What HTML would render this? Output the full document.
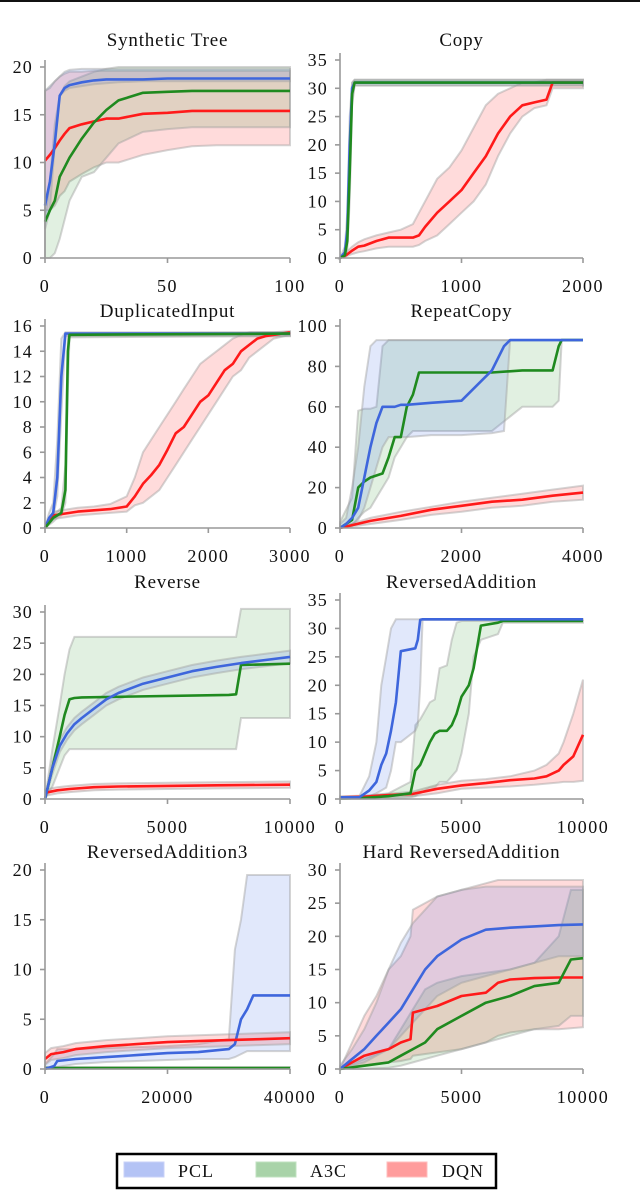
<!DOCTYPE html>
<html><head><meta charset="utf-8">
<style>
html,body{margin:0;padding:0;background:#fff;}
svg text{font-family:"Liberation Serif",serif;fill:#111;}
</style></head>
<body>
<svg id="chart" width="640" height="1190" viewBox="0 0 640 1190" xmlns="http://www.w3.org/2000/svg">
<rect x="0" y="0" width="640" height="2" fill="#111"/>
<g>
<rect x="117" y="1154" width="379" height="34" fill="#fff" stroke="#000" stroke-width="2.5"/>
<rect x="124" y="1162" width="40" height="15" fill="#b4c3f5" stroke="#c8d2f8"/>
<text x="178" y="1177" font-size="18" letter-spacing="1">PCL</text>
<rect x="256" y="1162" width="40" height="15" fill="#a9d3a9" stroke="#c0e0c0"/>
<text x="310" y="1177" font-size="18" letter-spacing="1">A3C</text>
<rect x="387" y="1162" width="40" height="15" fill="#ff9c9c" stroke="#ffbdbd"/>
<text x="442" y="1177" font-size="18" letter-spacing="1">DQN</text>
</g>
</svg>
<script>
// ---------- data ----------
// Panel 1: Synthetic Tree
const treeX=[0,2,4,6,8,10,15,20,25,30,40,50,60,70,80,100];
const treePclMean=[5.5,8,12,17,17.8,18.1,18.4,18.6,18.7,18.7,18.7,18.8,18.8,18.8,18.8,18.8];
const treePclLo=[3,5,12,17,17.5,17.8,18,18.2,18.3,18.4,18.5,18.5,18.5,18.5,18.5,18.5];
const treePclHi=[17.5,18,18.5,19,19.5,19.7,19.8,19.8,19.8,19.8,19.8,19.8,19.8,19.8,19.8,19.8];
const treeA3cMean=[3.8,5,6,8.5,9.5,10.5,12.5,14.2,15.5,16.5,17.3,17.4,17.5,17.5,17.5,17.5];
const treeA3cLo=[0,0,0.5,2,4,6,8.5,9,10.5,12,13.2,13.5,13.7,13.7,13.7,13.7];
const treeA3cHi=[4,8,14,17,18,18.5,19,19.5,19.8,20,20,20,20,20,20,20];
const treeDqnMean=[10.2,10.8,11.5,12.3,13,13.6,14,14.3,14.6,14.6,15.1,15.2,15.4,15.4,15.4,15.4];
const treeDqnLo=[5,5,5.5,6.5,7,8,8.8,9.5,10,10,10.8,11.3,11.7,11.8,11.8,11.8];
const treeDqnHi=[17.5,17.8,18.5,19,19.3,19.5,19.5,19.6,19.6,19.6,19.6,19.6,19.6,19.6,19.6,19.6];
// Panel 2: Copy
const copyPclX=[0,40,60,80,100,120,2000];
const copyPclMean=[0,1,5,20,30,31,31];
const copyPclLo=[0,0.5,3,15,28,30.5,30.5];
const copyPclHi=[0,2,8,25,31,31.5,31.5];
const copyA3cX=[0,40,60,80,100,120,2000];
const copyA3cMean=[0,0.5,3,15,29,31,31];
const copyA3cLo=[0,0.2,1.5,10,27,30.5,30.5];
const copyA3cHi=[0,1,5,20,31,31.5,31.5];
const copyDqnX=[0,50,100,150,200,300,400,500,600,650,700,800,900,1000,1100,1200,1300,1400,1500,1600,1700,1750,2000];
const copyDqnMean=[0,0.5,1.3,2,2.2,3,3.6,3.6,3.6,4,5.5,8,10,12,15,18,22,25,27,27.5,28,31,31];
const copyDqnLo=[0,0.3,0.7,1,1.2,1.7,2,2,2,2.3,3,4,6,8,10,13,18,22,25,26.5,27,30,30];
const copyDqnHi=[0,1,2,2.8,3.3,4,4.5,5,6,8,10,14,16,19,23,27,29,30,31,31,31.5,31.5,31.5];
// Panel 3: DuplicatedInput
const dupPclX=[0,50,100,150,200,250,300,3000];
const dupPclMean=[0,0.8,1.2,4,12,15.4,15.4,15.4];
const dupPclLo=[0,0.5,0.9,2.5,9,15.2,15.2,15.2];
const dupPclHi=[0,1.2,2,7,15,15.5,15.5,15.5];
const dupA3cX=[0,100,150,200,250,280,300,3000];
const dupA3cMean=[0,0.8,1,1.2,3,14,15.3,15.4];
const dupA3cLo=[0,0.5,0.8,1,2,11,15.1,15.2];
const dupA3cHi=[0,1.1,1.3,1.6,5,15.3,15.4,15.5];
const dupDqnX=[0,100,200,400,600,800,1000,1100,1200,1300,1400,1500,1600,1700,1800,1900,2000,2100,2200,2300,2400,2500,2600,2700,2800,3000];
const dupDqnMean=[0,1,1.1,1.3,1.4,1.5,1.7,2.5,3.5,4.2,5,6.2,7.5,8,9,10,10.5,11.5,12.5,13,14,14.5,15,15.2,15.3,15.5];
const dupDqnLo=[0,0.7,0.8,1,1.1,1.2,1.3,1.8,2,2.5,3,4,5,6,7,8,9,10,11,12,12.5,13.5,14,14.5,15,15.3];
const dupDqnHi=[0,1.3,1.4,1.6,1.7,1.9,2.5,4,6,7,8,9,10,11,12,13,13.5,14,14.5,15,15.3,15.5,15.5,15.5,15.5,15.6];
// Panel 4: RepeatCopy
const repPclX=[0,100,200,300,400,500,600,700,800,900,1000,1100,1500,2000,2500,2700,2800,4000];
const repPclMean=[0,2,5,10,25,40,52,60,60,60,61,61,62,63,78,90,93,93];
const repPclLo=[0,1,2,4,10,20,30,40,45,45,45,45,46,46,47,48,93,93];
const repPclHi=[2,5,20,40,70,90,93,93,93,93,93,93,93,93,93,93,93,93];
const repA3cX=[0,200,300,400,500,600,700,800,900,1000,1100,1200,1300,1400,1500,2000,2500,3000,3500,3600,3650,4000];
const repA3cMean=[0,4,20,23,25,26,27,35,45,45,60,66,77,77,77,77,77,78,78,90,93,93];
const repA3cLo=[0,1,5,8,10,15,20,25,35,40,45,48,48,48,48,48,48,60,60,63,93,93];
const repA3cHi=[3,15,58,59,59,60,90,93,93,93,93,93,93,93,93,93,93,93,93,93,93,93];
const repDqnX=[0,500,1000,1500,2000,2500,3000,3500,4000];
const repDqnMean=[0,3.5,6,9,11,13,14,16,17.5];
const repDqnLo=[0,2,4,6.5,8,10,11,13,14];
const repDqnHi=[0,5,8,10.5,13,15,17,19,21];
// Panel 5: Reverse
const revPclX=[0,300,600,900,1200,1500,2000,2500,3000,4000,5000,6000,7000,8000,9000,10000];
const revPclMean=[0,5,8.5,10.5,12,13,14.5,16,17,18.5,19.5,20.5,21.2,21.8,22.3,22.8];
const revPclLo=[0,4,7.5,9.5,11,12,13.5,15,16,17.5,18.5,19.5,20.2,20.8,21.3,21.8];
const revPclHi=[0,6,9.5,11.5,13,14,15.5,17,18,19.5,20.5,21.5,22.2,22.8,23.3,23.8];
const revA3cX=[0,300,600,800,1000,1200,1500,7500,7800,8000,10000];
const revA3cMean=[0,5,10,13.5,16,16.2,16.3,16.7,16.8,21.5,21.7];
const revA3cLo=[0,2,5,7,8,8,8,8,8,13,13];
const revA3cHi=[0,8,15,20,24,26,26,26,26,30.5,30.5];
const revDqnX=[0,500,1000,2000,3000,5000,7000,10000];
const revDqnMean=[1,1.4,1.6,1.9,2,2.1,2.2,2.3];
const revDqnLo=[0.5,0.9,1.1,1.4,1.5,1.6,1.7,1.8];
const revDqnHi=[1.5,1.9,2.1,2.4,2.5,2.6,2.7,2.8];
// Panel 6: ReversedAddition
const raPclX=[0,800,1200,1500,1700,1900,2100,2300,2500,3100,3200,3300,3400,10000];
const raPclMean=[0.3,0.3,1.5,3,6,8,12,17,26,26.5,28,31.5,31.6,31.6];
const raPclLo=[0.3,0.3,0.5,1,1.5,2,5,10,10,12,13,20,31.5,31.5];
const raPclHi=[0.3,0.5,4,10,20,25,30,31.6,31.6,31.6,31.6,31.6,31.6,31.6];
const raA3cX=[0,1000,2000,2900,3100,3300,3700,3900,4100,4400,4600,4800,5000,5300,5500,5800,6500,6700,10000];
const raA3cMean=[0.1,0.2,0.5,1,5,6,10,11.5,12,12,13,15,18,20,23,30.5,31,31.3,31.3];
const raA3cLo=[0,0,0.1,0.3,0.5,1,2,2,3,3,4,5,8,15,25,28,29,31,31];
const raA3cHi=[0.2,0.5,1,3,13,14,17,17.5,23,23.5,28,31,31.3,31.3,31.3,31.3,31.3,31.3,31.3];
const raDqnX=[0,1000,2000,3000,4000,5000,6000,7000,8000,8500,9000,9200,9600,10000];
const raDqnMean=[0.3,0.4,0.7,0.9,1.8,2.4,2.8,3.3,3.6,4,5,6,7.5,11.3];
const raDqnLo=[0.2,0.3,0.4,0.5,1,1.8,2,2.2,2.5,2.7,2.9,3,3,3.2];
const raDqnHi=[0.5,0.6,0.9,1.3,2.5,3.2,3.5,4,5,6,8,10,15,21];
// Panel 7: ReversedAddition3
const ra3PclX=[0,1500,2000,5000,10000,15000,20000,25000,30000,31000,32000,33000,34000,40000];
const ra3PclMean=[0,0.3,0.8,1,1.2,1.4,1.6,1.7,2,2.5,5,6,7.4,7.4];
const ra3PclLo=[0,0.1,0.2,0.5,0.7,0.8,0.9,1,1,1.2,1.5,1.8,1.8,1.8];
const ra3PclHi=[0.5,1.5,2,2,2.1,2.2,2.3,2.5,3,12,15,19.5,19.5,19.5];
const ra3A3cX=[0,40000];
const ra3A3cMean=[0.1,0.1];
const ra3A3cLo=[0,0];
const ra3A3cHi=[0.2,0.2];
const ra3DqnX=[0,1000,3000,5000,10000,15000,20000,25000,30000,35000,40000];
const ra3DqnMean=[1,1.5,1.7,2,2.3,2.5,2.7,2.8,2.9,3,3.1];
const ra3DqnLo=[0.4,0.9,1.1,1.4,1.7,1.9,2.1,2.2,2.3,2.4,2.5];
const ra3DqnHi=[1.6,2.1,2.3,2.6,2.9,3.1,3.3,3.4,3.5,3.6,3.7];
// Panel 8: Hard ReversedAddition
const hraPclX=[0,500,1000,1500,2000,2500,3000,3500,4000,5000,6000,7000,8000,9000,10000];
const hraPclMean=[0,1.5,3,5,7,9,12,15,17,19.5,21,21.3,21.5,21.7,21.8];
const hraPclLo=[0,0.5,1,2,3,5,7,9,11,13,14,15,16,17,17];
const hraPclHi=[0.5,3,6,10,15,19,22,24,26,27,27.5,27.5,27.5,27.5,27.5];
const hraA3cX=[0,1000,2000,2500,3000,3500,4000,5000,6000,7000,8000,9000,9500,10000];
const hraA3cMean=[0,0.5,1,2,3,4,6,8,10,11,12.5,13,16.5,16.7];
const hraA3cLo=[0,0,0.2,0.5,1,1.5,2,3,4,5,6,6.5,8,8];
const hraA3cHi=[0,1.5,3,6,9,12,13,14,14.5,15,16,20,27,27];
const hraDqnX=[0,500,1000,1500,2000,2500,2900,3000,4000,5000,6000,6500,7000,8000,9000,10000];
const hraDqnMean=[0,1,2,2.5,3,4,4.5,8.5,9.5,11,11.5,13,13.5,13.7,13.8,13.8];
const hraDqnLo=[0,0.3,0.5,0.8,1,1.2,1.5,2,2.5,3,4,5,5.5,6,6,6.3];
const hraDqnHi=[0,4,8,11,15,17,20,24,26,27,28,28.5,28.5,28.5,28.5,28.5];

// tick labels
const treeYTicks=[0,5,10,15,20], treeXTicks=[0,50,100];
const copyYTicks=[0,5,10,15,20,25,30,35], copyXTicks=[0,1000,2000];
const dupYTicks=[0,2,4,6,8,10,12,14,16], dupXTicks=[0,1000,2000,3000];
const repYTicks=[0,20,40,60,80,100], repXTicks=[0,2000,4000];
const revYTicks=[0,5,10,15,20,25,30], revXTicks=[0,5000,10000];
const raYTicks=[0,5,10,15,20,25,30,35], raXTicks=[0,5000,10000];
const ra3YTicks=[0,5,10,15,20], ra3XTicks=[0,20000,40000];
const hraYTicks=[0,5,10,15,20,25,30], hraXTicks=[0,5000,10000];

// ---------- drawing ----------
const NS="http://www.w3.org/2000/svg";
const svg=document.getElementById('chart');
const COL={pcl:{line:'#3e66dc',fill:'rgba(80,120,230,0.17)'},a3c:{line:'#1f8a1f',fill:'rgba(40,150,40,0.14)'},dqn:{line:'#ff1a1a',fill:'rgba(255,40,40,0.17)'}};
function mk(tag,attrs,parent){const e=document.createElementNS(NS,tag);for(const k in attrs)e.setAttribute(k,attrs[k]);(parent||svg).appendChild(e);return e;}

function panel(cfg){
  const g=mk('g',{});
  
  
  const xs=v=>cfg.x0+(v-cfg.xmin)/(cfg.xmax-cfg.xmin)*(cfg.x1-cfg.x0);
  const ys=v=>cfg.yb-(v/cfg.ymax)*(cfg.yb-cfg.yt);
  cfg.series.forEach(s=>{
    let d='';
    s.x.forEach((v,i)=>{d+=(i?'L':'M')+xs(v).toFixed(1)+','+ys(s.hi[i]).toFixed(1);});
    for(let i=s.x.length-1;i>=0;i--)d+='L'+xs(s.x[i]).toFixed(1)+','+ys(s.lo[i]).toFixed(1);
    d+='Z';
    const b=mk('path',{d:d,fill:COL[s.key].fill,stroke:'rgba(160,160,160,0.45)','stroke-width':2},g);
    
    
  });
  cfg.series.forEach(s=>{
    let d='';
    s.x.forEach((v,i)=>{d+=(i?'L':'M')+xs(v).toFixed(1)+','+ys(s.mean[i]).toFixed(1);});
    const l=mk('path',{d:d,fill:'none',stroke:COL[s.key].line,'stroke-width':2.6,'stroke-linejoin':'round'},g);
    
    
  });
  const ax=mk('path',{d:`M${cfg.x0},${cfg.yt-7}V${cfg.yb}H${cfg.x1}`,fill:'none',stroke:'#999','stroke-width':1.6},g);
  
  
  cfg.yt_.forEach(v=>{
    mk('line',{x1:cfg.x0-5,x2:cfg.x0,y1:ys(v),y2:ys(v),stroke:'#999','stroke-width':1.6},g);
    const t=mk('text',{x:cfg.x0-12,y:ys(v)+6,'font-size':18,'letter-spacing':1.2,'text-anchor':'end'},g);
    t.textContent=v;
    
    
  });
  cfg.xt_.forEach(v=>{
    mk('line',{x1:xs(v),x2:xs(v),y1:cfg.yb,y2:cfg.yb+5,stroke:'#999','stroke-width':1.6},g);
    const t=mk('text',{x:xs(v),y:cfg.yb+34,'font-size':18,'letter-spacing':1.5,'text-anchor':'middle'},g);
    t.textContent=v;
    
    
  });
  const ti=mk('text',{x:(cfg.x0+cfg.x1)/2,y:cfg.ty,'font-size':19,'letter-spacing':0.8,'text-anchor':'middle'},g);
  ti.textContent=cfg.title;
  
  
}
function S(key,x,mean,lo,hi){return {key,x,mean,lo,hi};}
const L={x0:45,x1:290}, R={x0:340,x1:583};
panel({name:'synthetic-tree',title:'Synthetic Tree',...L,xmin:0,xmax:100,ymax:20,yb:258,yt:67,ty:46,yt_:treeYTicks,xt_:treeXTicks,
 series:[S('dqn',treeX,treeDqnMean,treeDqnLo,treeDqnHi),S('a3c',treeX,treeA3cMean,treeA3cLo,treeA3cHi),S('pcl',treeX,treePclMean,treePclLo,treePclHi)]});
panel({name:'copy',title:'Copy',...R,xmin:0,xmax:2000,ymax:35,yb:258,yt:60,ty:46,yt_:copyYTicks,xt_:copyXTicks,
 series:[S('dqn',copyDqnX,copyDqnMean,copyDqnLo,copyDqnHi),S('pcl',copyPclX,copyPclMean,copyPclLo,copyPclHi),S('a3c',copyA3cX,copyA3cMean,copyA3cLo,copyA3cHi)]});
panel({name:'duplicated-input',title:'DuplicatedInput',...L,xmin:0,xmax:3000,ymax:16,yb:528,yt:326,ty:317,yt_:dupYTicks,xt_:dupXTicks,
 series:[S('dqn',dupDqnX,dupDqnMean,dupDqnLo,dupDqnHi),S('pcl',dupPclX,dupPclMean,dupPclLo,dupPclHi),S('a3c',dupA3cX,dupA3cMean,dupA3cLo,dupA3cHi)]});
panel({name:'repeat-copy',title:'RepeatCopy',...R,xmin:0,xmax:4000,ymax:100,yb:528,yt:326,ty:317,yt_:repYTicks,xt_:repXTicks,
 series:[S('dqn',repDqnX,repDqnMean,repDqnLo,repDqnHi),S('a3c',repA3cX,repA3cMean,repA3cLo,repA3cHi),S('pcl',repPclX,repPclMean,repPclLo,repPclHi)]});
panel({name:'reverse',title:'Reverse',...L,xmin:0,xmax:10000,ymax:30,yb:799,yt:612,ty:588,yt_:revYTicks,xt_:revXTicks,
 series:[S('dqn',revDqnX,revDqnMean,revDqnLo,revDqnHi),S('a3c',revA3cX,revA3cMean,revA3cLo,revA3cHi),S('pcl',revPclX,revPclMean,revPclLo,revPclHi)]});
panel({name:'reversed-addition',title:'ReversedAddition',...R,xmin:0,xmax:10000,ymax:35,yb:799,yt:600,ty:588,yt_:raYTicks,xt_:raXTicks,
 series:[S('dqn',raDqnX,raDqnMean,raDqnLo,raDqnHi),S('a3c',raA3cX,raA3cMean,raA3cLo,raA3cHi),S('pcl',raPclX,raPclMean,raPclLo,raPclHi)]});
panel({name:'reversed-addition3',title:'ReversedAddition3',...L,xmin:0,xmax:40000,ymax:20,yb:1069,yt:870,ty:858,yt_:ra3YTicks,xt_:ra3XTicks,
 series:[S('a3c',ra3A3cX,ra3A3cMean,ra3A3cLo,ra3A3cHi),S('pcl',ra3PclX,ra3PclMean,ra3PclLo,ra3PclHi),S('dqn',ra3DqnX,ra3DqnMean,ra3DqnLo,ra3DqnHi)]});
panel({name:'hard-reversed-addition',title:'Hard ReversedAddition',...R,xmin:0,xmax:10000,ymax:30,yb:1069,yt:870,ty:858,yt_:hraYTicks,xt_:hraXTicks,
 series:[S('dqn',hraDqnX,hraDqnMean,hraDqnLo,hraDqnHi),S('a3c',hraA3cX,hraA3cMean,hraA3cLo,hraA3cHi),S('pcl',hraPclX,hraPclMean,hraPclLo,hraPclHi)]});
</script>
</body></html>
